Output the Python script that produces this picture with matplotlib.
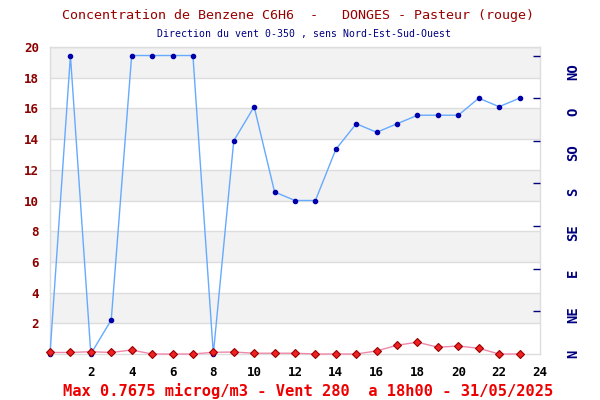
import matplotlib
matplotlib.use("Agg")
import matplotlib.pyplot as plt
import matplotlib.transforms as mtransforms

hours = list(range(24))
benzene = [0.10, 0.10, 0.15, 0.10, 0.26, 0.00, 0.00, 0.00, 0.11, 0.13, 0.05, 0.05,
           0.05, 0.00, 0.00, 0.00, 0.20, 0.57, 0.7675, 0.44, 0.52, 0.37, 0.00, 0.00]
wind_dir = [0, 350, 0, 40, 350, 350, 350, 350, 0, 250, 290, 190,
            180, 180, 240, 270, 260, 270, 280, 280, 280, 300, 290, 300]
dir_labels = ["N", "NE", "E", "SE", "S", "SO", "O", "NO"]
dir_label_pos = [0, 45.7, 95, 142, 190, 236, 284, 331]
yticks_left = [2, 4, 6, 8, 10, 12, 14, 16, 18, 20]
xticks = [2, 4, 6, 8, 10, 12, 14, 16, 18, 20, 22, 24]
dir_ticks = [50, 100, 150, 200, 250, 300, 350]

title = "Concentration de Benzene C6H6  -   DONGES - Pasteur (rouge)"
subtitle = "Direction du vent 0-350 , sens Nord-Est-Sud-Ouest"
footer = "Max 0.7675 microg/m3 - Vent 280  a 18h00 - 31/05/2025"

mono = "DejaVu Sans Mono"

fig = plt.figure(figsize=(6, 4), dpi=100)
ax = fig.add_axes([50/600, 46/400, 490/600, 307/400])
ax.set_xlim(0, 24)
ax.set_ylim(0, 20)

# alternating bands
for lo in range(2, 20, 4):
    ax.axhspan(lo, lo + 2, color="#f2f2f2", zorder=0, lw=0)
for y in yticks_left:
    ax.axhline(y, color="#dddddd", lw=1, zorder=1)

for s in ax.spines.values():
    s.set_color("#dddddd")
    s.set_linewidth(1)

# wind direction scaled to left axis (0-360 -> 0-20)
wind_scaled = [d / 18.0 for d in wind_dir]
ax.plot(hours, wind_scaled, color="#66aaff", lw=1, zorder=3,
        marker="o", markersize=3, markerfacecolor="#0000aa",
        markeredgecolor="#0000aa", clip_on=False)
ax.plot(hours, benzene, color="#ee88aa", lw=1, zorder=4,
        marker="D", markersize=4, markerfacecolor="#ee2222",
        markeredgecolor="#990000", markeredgewidth=0.8, clip_on=False)

ax.set_yticks(yticks_left)
ax.set_yticklabels([str(v) for v in yticks_left], fontfamily=mono,
                   fontweight="bold", fontsize=9, color="#8b0000")
ax.set_xticks(xticks)
ax.set_xticklabels([str(v) for v in xticks], fontfamily=mono,
                   fontweight="bold", fontsize=9, color="black")
ax.tick_params(axis="y", length=0, pad=8)
ax.tick_params(axis="x", length=0, pad=9)

ax2 = ax.twinx()
ax2.set_ylim(0, 360)
ax2.set_yticks(dir_ticks)
ax2.set_yticklabels([""] * len(dir_ticks))
ax2.tick_params(axis="y", direction="in", length=5, width=1, color="#000080")
for s in ax2.spines.values():
    s.set_visible(False)
trans = mtransforms.blended_transform_factory(ax2.transAxes, ax2.transData)
for lab, pos in zip(dir_labels, dir_label_pos):
    ax2.text(1.068, pos, lab, transform=trans, rotation=90, ha="center",
             va="center", fontfamily=mono, fontweight="bold", fontsize=10,
             color="#000080", clip_on=False)

fig.text(0.497, 1 - 15/400, title, ha="center", va="center",
         fontfamily=mono, fontsize=9.6, color="#990000")
fig.text(0.506, 1 - 34/400, subtitle, ha="center", va="center",
         fontfamily=mono, fontsize=7.1, color="#000080")
fig.text(0.513, 1 - 391/400, footer, ha="center", va="center",
         fontfamily=mono, fontsize=11.1, fontweight="bold", color="#ee0000")

fig.savefig("out.png", dpi=100)
